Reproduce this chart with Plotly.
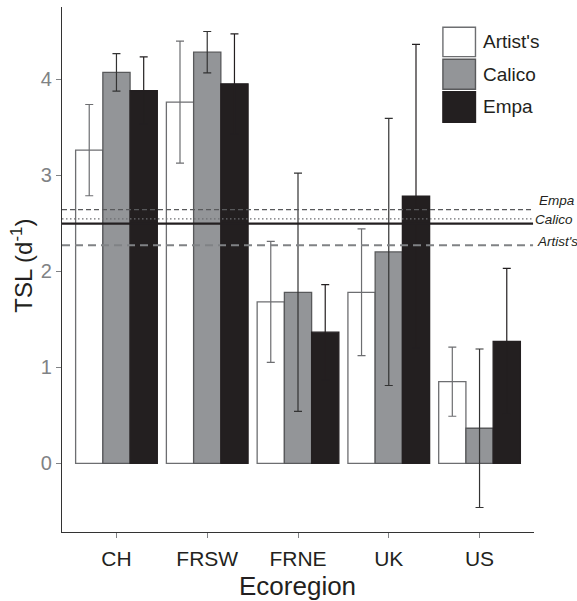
import plotly.graph_objects as go

# ---- data ----
categories = ["CH", "FRSW", "FRNE", "UK", "US"]
series_names = ["Artist's", "Calico", "Empa"]
artists = [3.26, 3.76, 1.68, 1.78, 0.85]
artists_err = [0.475, 0.635, 0.63, 0.66, 0.36]
calico = [4.07, 4.28, 1.78, 2.20, 0.365]
calico_err = [0.195, 0.215, 1.24, 1.39, 0.825]
empa = [3.88, 3.95, 1.365, 2.78, 1.27]
empa_err = [0.35, 0.52, 0.495, 1.58, 0.76]

ref_names = ["Empa", "Calico", "overall", "Artist's"]
ref_values = [2.64, 2.545, 2.496, 2.27]
y_ticks = [0, 1, 2, 3, 4]

# ---- styles ----
fills = ["#ffffff", "#939598", "#231f20"]
outlines = ["#6d6e71", "#58595b", "#231f20"]
err_colors = ["#6d6e71", "#333333", "#231f20"]
values = [artists, calico, empa]
errors = [artists_err, calico_err, empa_err]

fig = go.Figure()
for name, vals, errs, fc, oc, ec in zip(series_names, values, errors, fills, outlines, err_colors):
    fig.add_trace(go.Bar(
        x=categories, y=vals, name=name,
        marker=dict(color=fc, line=dict(color=oc, width=1.3)),
        error_y=dict(type="data", array=errs, visible=True,
                     color=ec, thickness=1.2, width=4),
        showlegend=False,
    ))

# reference lines
line_styles = {
    "Empa": dict(color="#58595b", width=1.3, dash="5px,3px"),
    "Calico": dict(color="#6d6e71", width=1.2, dash="1.5px,2.5px"),
    "overall": dict(color="#231f20", width=2.2),
    "Artist's": dict(color="#808285", width=1.8, dash="8px,5px"),
}
for nm, v in zip(ref_names, ref_values):
    fig.add_shape(type="line", xref="paper", yref="y", x0=0, x1=0.998,
                  y0=v, y1=v, line=line_styles[nm], layer="above")

# labels for reference lines
label_pos = {"Empa": (1.006, ref_values[0] + 0.10),
             "Calico": (0.998, ref_values[1] - 0.012),
             "Artist's": (1.003, ref_values[3] + 0.04)}
for nm, (lx, ly) in label_pos.items():
    fig.add_annotation(x=lx, y=ly, xref="paper", yref="y", text="<i>%s</i>" % nm,
                       showarrow=False, xanchor="left", yanchor="middle",
                       font=dict(size=13.5, color="#231f20",
                                 family="Liberation Sans, Arial, sans-serif"))

# custom legend (large swatches)
leg_boxes = [(0.9613, 0.9054), (0.9004, 0.8433), (0.8387, 0.7804)]
for (y1, y0), nm, fc, oc in zip(leg_boxes, series_names, fills, outlines):
    fig.add_shape(type="rect", xref="paper", yref="paper", x0=0.807, x1=0.876,
                  y0=y0, y1=y1, fillcolor=fc, line=dict(color=oc, width=1.4))
    fig.add_annotation(x=0.887, y=(y0 + y1) / 2, xref="paper", yref="paper",
                       text=nm, showarrow=False, xanchor="left", yanchor="middle",
                       font=dict(size=19, color="#231f20",
                                 family="Liberation Sans, Arial, sans-serif"))

# axis titles
fig.add_annotation(x=-0.0854, y=0.5067, xref="paper", yref="paper",
                   text="TSL (d<sup>-1</sup>)", textangle=-90, showarrow=False,
                   xanchor="center", yanchor="middle",
                   font=dict(size=24, color="#231f20",
                             family="Liberation Sans, Arial, sans-serif"))
fig.add_annotation(x=0.4994, y=-0.1025, xref="paper", yref="paper",
                   text="Ecoregion", showarrow=False,
                   xanchor="center", yanchor="middle",
                   font=dict(size=26, color="#231f20",
                             family="Liberation Sans, Arial, sans-serif"))

fig.update_layout(
    width=577, height=601,
    margin=dict(l=62, r=43, t=7, b=69),
    paper_bgcolor="white", plot_bgcolor="white",
    barmode="group", bargap=0.1, bargroupgap=0,
    font=dict(family="Liberation Sans, Arial, sans-serif"),
    xaxis=dict(range=[-0.6, 4.6], showline=True, linecolor="#333333", linewidth=1.2,
               ticks="outside", ticklen=5, tickcolor="#808285", tickwidth=1,
               ticklabelstandoff=3,
               tickfont=dict(size=21, color="#231f20"), showgrid=False, zeroline=False),
    yaxis=dict(range=[-0.715, 4.75], showline=True, linecolor="#333333", linewidth=1.2,
               tickvals=y_ticks, ticks="outside", ticklen=5, tickcolor="#808285",
               tickwidth=1, tickfont=dict(size=20, color="#808285"),
               showgrid=False, zeroline=False),
)

fig.write_html(
    "out.html",
    config={"displayModeBar": False, "staticPlot": True},
    post_script="document.body.style.margin='0';document.body.style.padding='0';"
                "document.body.style.overflow='hidden';",
)
